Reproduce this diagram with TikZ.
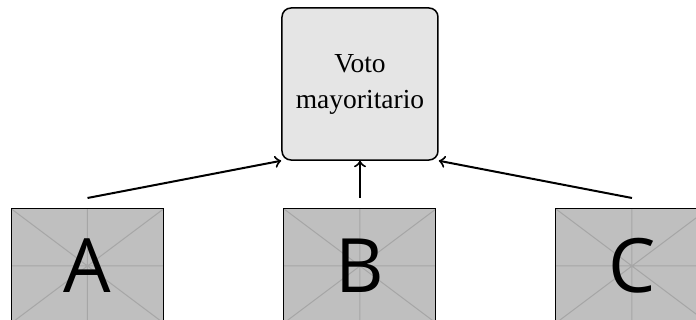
\documentclass[tikz,border=0pt]{standalone}
\usepackage{fontspec}
\setmainfont{Liberation Serif}
\newfontfamily\lettersans{Open Sans}
\begin{document}
\begin{tikzpicture}[x=0.4pt, y=-0.4pt,
  votebox/.style={draw, line width=0.6pt, rounded corners=3.6pt, fill=black!10,
    minimum width=62.4pt, minimum height=60.8pt, align=center,
    font=\fontsize{11}{14.4}\selectfont},
  placeholder/.style={draw, line width=0.4pt, fill=black!25, inner sep=0pt,
    minimum width=60.8pt, minimum height=45.6pt, outer ysep=4.4pt,
    font=\lettersans\fontsize{30}{30}\selectfont,
    path picture={
      \draw[black!35, line width=0.4pt]
        (path picture bounding box.south west) -- (path picture bounding box.north east)
        (path picture bounding box.north west) -- (path picture bounding box.south east)
        (path picture bounding box.west) -- (path picture bounding box.east)
        (path picture bounding box.north) -- (path picture bounding box.south);
    }},
  feed/.style={->, line width=0.8pt}]
  \useasboundingbox (0,0) rectangle (696,320);

  % majority-vote combiner
  \node[votebox] (vote) at (360,84) {Voto\\mayoritario};

  % the three classifiers
  \node[placeholder] (A) at (87.5,266) {A};
  \node[placeholder] (B) at (360,266) {B};
  \node[placeholder] (C) at (632,266) {C};

  \draw[feed] (A.north) -- (vote.south west);
  \draw[feed] (B.north) -- (vote.south);
  \draw[feed] (C.north) -- (vote.south east);
\end{tikzpicture}
\end{document}
